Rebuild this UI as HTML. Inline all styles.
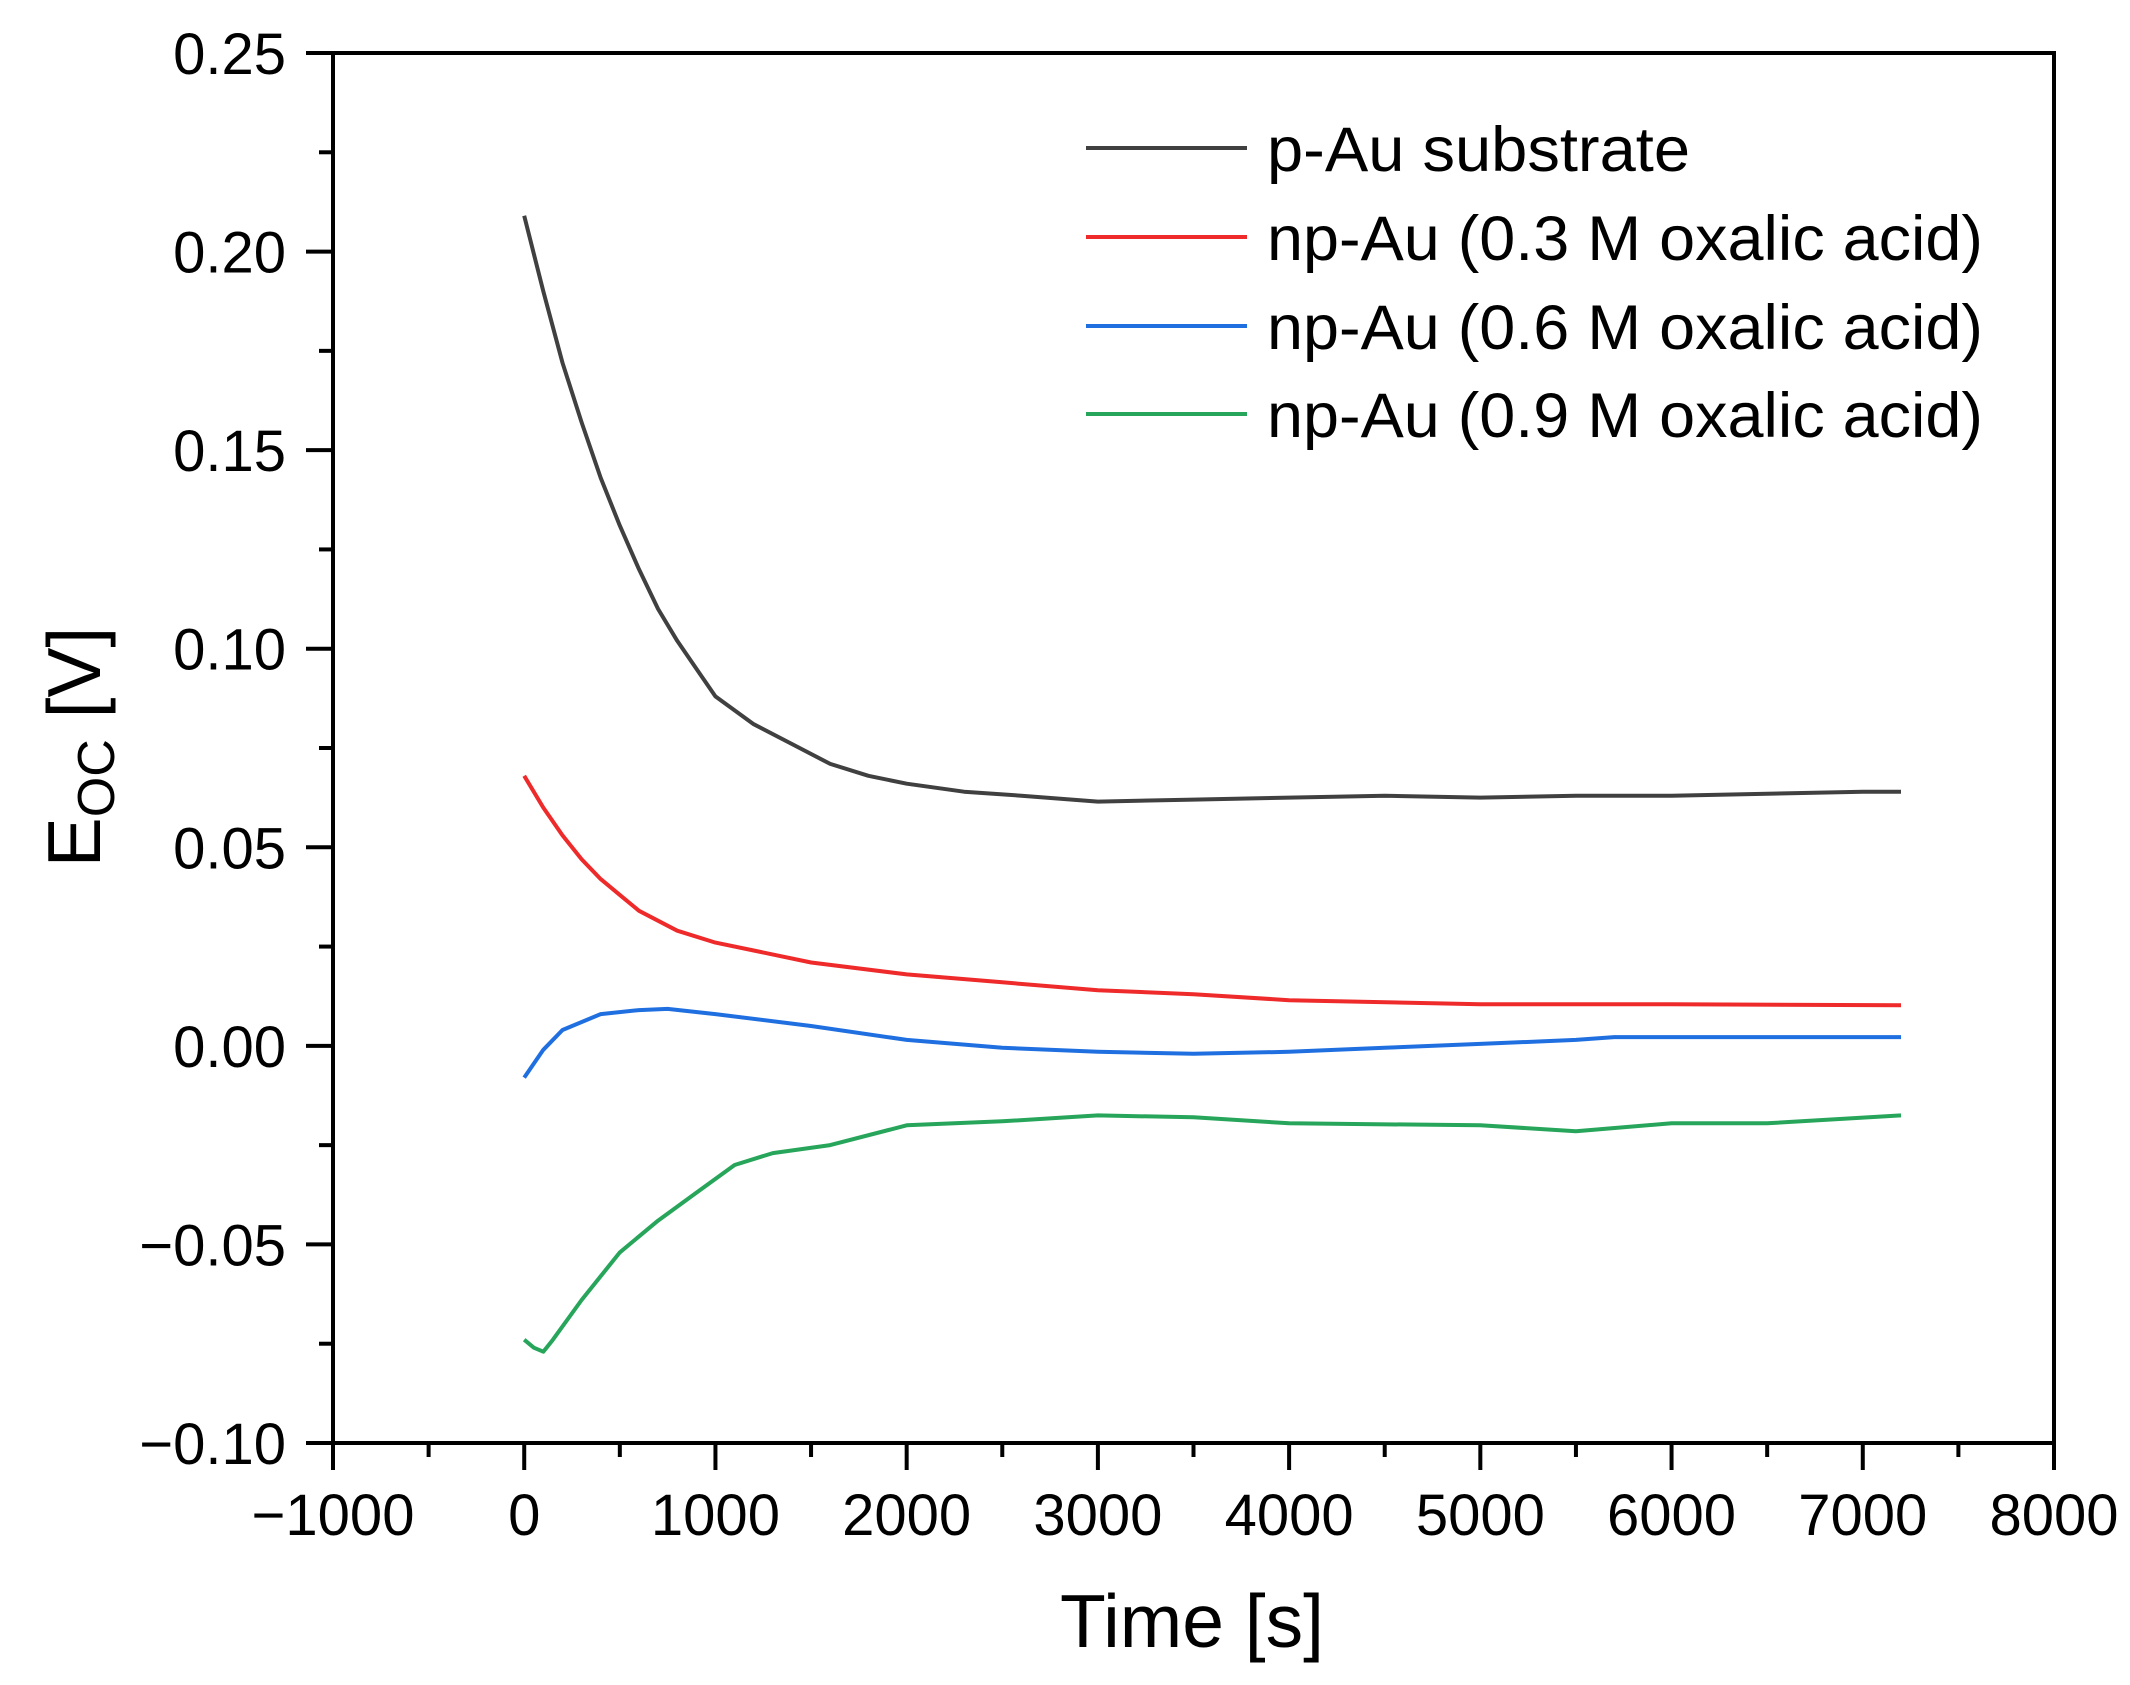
<!DOCTYPE html>
<html><head><meta charset="utf-8"><style>
html,body{margin:0;padding:0;background:#fff;}
svg{display:block;font-family:"Liberation Sans",Arial,sans-serif;}
</style></head><body>
<svg id="chart" width="2130" height="1685" viewBox="0 0 2130 1685" xmlns="http://www.w3.org/2000/svg">
<rect width="2130" height="1685" fill="#fff"/>
<g id="plot"></g>
</svg>
<script>
const xTicks = [-1000,0,1000,2000,3000,4000,5000,6000,7000,8000];
const yTicks = [0.25,0.20,0.15,0.10,0.05,0.00,-0.05,-0.10];
const yTickLabels = ["0.25","0.20","0.15","0.10","0.05","0.00","\u22120.05","\u22120.10"];
const seriesNames = ["p-Au substrate","np-Au (0.3 M oxalic acid)","np-Au (0.6 M oxalic acid)","np-Au (0.9 M oxalic acid)"];
const blackT = [0,100,200,300,400,500,600,700,800,900,1000,1200,1400,1600,1800,2000,2300,2600,3000,3500,4000,4500,5000,5500,6000,6500,7000,7200];
const blackV = [0.209,0.19,0.172,0.157,0.143,0.131,0.120,0.110,0.102,0.095,0.088,0.081,0.076,0.071,0.068,0.066,0.064,0.063,0.0615,0.062,0.0625,0.063,0.0625,0.063,0.063,0.0635,0.064,0.064];
const redT = [0,100,200,300,400,500,600,800,1000,1200,1500,2000,2500,3000,3500,4000,5000,6000,7200];
const redV = [0.068,0.060,0.053,0.047,0.042,0.038,0.034,0.029,0.026,0.024,0.021,0.018,0.016,0.014,0.013,0.0115,0.0105,0.0105,0.0102];
const blueT = [0,100,200,400,600,750,1000,1500,2000,2500,3000,3500,4000,4500,5000,5500,5700,7200];
const blueV = [-0.008,-0.001,0.004,0.008,0.009,0.0093,0.008,0.005,0.0015,-0.0005,-0.0015,-0.002,-0.0015,-0.0005,0.0005,0.0015,0.0022,0.0022];
const greenT = [0,50,100,150,300,500,700,900,1100,1300,1600,2000,2500,3000,3500,4000,5000,5500,6000,6500,7200];
const greenV = [-0.074,-0.076,-0.077,-0.074,-0.064,-0.052,-0.044,-0.037,-0.030,-0.027,-0.025,-0.020,-0.019,-0.0175,-0.018,-0.0195,-0.020,-0.0215,-0.0195,-0.0195,-0.0175];

const L=333,R=2054,T=53,B=1443;
const X=v=>L+(v+1000)/9000*(R-L);
const Y=v=>T+(0.25-v)/0.35*(B-T);
const NS="http://www.w3.org/2000/svg";
const g=document.getElementById('plot');
function mk(tag,attrs,parent){const e=document.createElementNS(NS,tag);for(const k in attrs)e.setAttribute(k,attrs[k]);(parent||g).appendChild(e);return e;}

const series=[[blackT,blackV,"#404040","series-p-au"],[redT,redV,"#ee2a2a","series-np-au-0-3m"],[blueT,blueV,"#1f6fe0","series-np-au-0-6m"],[greenT,greenV,"#27a55a","series-np-au-0-9m"]];
series.forEach(s=>{
  const d=s[0].map((t,i)=>(i?'L':'M')+X(t).toFixed(1)+','+Y(s[1][i]).toFixed(1)).join(' ');
  const p=mk('path',{d:d,fill:'none',stroke:s[2],'stroke-width':4,'stroke-linejoin':'round'});
  
  
});

const fr=mk('rect',{x:L,y:T,width:R-L,height:B-T,fill:'none',stroke:'#000','stroke-width':4});



xTicks.forEach(t=>{
  const tk=mk('line',{x1:X(t),x2:X(t),y1:B,y2:B+27,stroke:'#000','stroke-width':4});
  
  
  const lb=mk('text',{x:X(t),y:1535,'font-size':58,'text-anchor':'middle',fill:'#000'});
  lb.textContent=t<0?'\u2212'+Math.abs(t):String(t);
  
  
  if(t<8000){
    const m=mk('line',{x1:X(t+500),x2:X(t+500),y1:B,y2:B+14,stroke:'#000','stroke-width':4});
    
    
  }
});
yTicks.forEach((v,i)=>{
  const tk=mk('line',{x1:L-27,x2:L,y1:Y(v),y2:Y(v),stroke:'#000','stroke-width':4});
  
  
  const lb=mk('text',{x:286,y:Y(v)+21,'font-size':58,'text-anchor':'end',fill:'#000'});
  lb.textContent=yTickLabels[i];
  
  
  if(v>-0.1){
    const m=mk('line',{x1:L-14,x2:L,y1:Y(v-0.025),y2:Y(v-0.025),stroke:'#000','stroke-width':4});
    
    
  }
});

const xt=mk('text',{x:1192,y:1647,'font-size':75,'text-anchor':'middle',fill:'#000'});
xt.textContent='Time [s]';


const yt=mk('text',{x:0,y:0,'font-size':75,'text-anchor':'middle',fill:'#000',transform:'translate(100,747) rotate(-90)'});
yt.innerHTML='E<tspan font-size="52" dy="14">OC</tspan><tspan dy="-14"> [V]</tspan>';



const legY=[148,237,326,414];
const legW=[423,716,716,716];
series.forEach((s,i)=>{
  const ln=mk('line',{x1:1086,x2:1247,y1:legY[i],y2:legY[i],stroke:s[2],'stroke-width':4});
  
  
  const tx=mk('text',{x:1267,y:legY[i]+23,'font-size':63,fill:'#000',textLength:legW[i],lengthAdjust:'spacingAndGlyphs'});
  tx.textContent=seriesNames[i];
  
  
});
</script>
</body></html>
